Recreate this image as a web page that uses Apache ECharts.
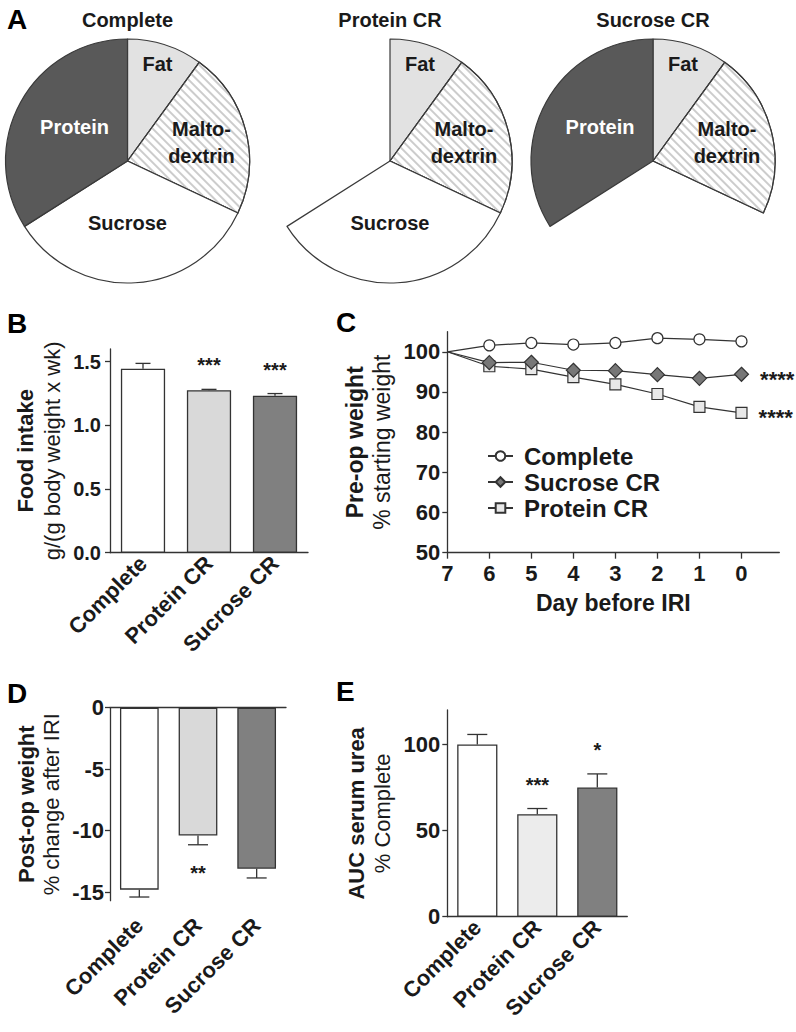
<!DOCTYPE html>
<html><head><meta charset="utf-8">
<script src="https://cdn.jsdelivr.net/npm/echarts@6/dist/echarts.min.js"></script>
<style>html,body{margin:0;padding:0;background:#fff}#c{width:796px;height:1032px}</style>
</head><body><div id="c"></div>
<script>
// ---------- DATA ----------
// Panel A: diet composition (share of energy, %)
const nutrients = ['Fat', 'Maltodextrin', 'Sucrose', 'Protein'];
const nutrientLabels = ['Fat', 'Malto-\ndextrin', 'Sucrose', 'Protein'];
const dietShares = [10, 22, 34, 34];
const pieTitles = ['Complete', 'Protein CR', 'Sucrose CR'];
const removedNutrient = [null, 'Protein', 'Sucrose'];
// Panel B: food intake
const groups = ['Complete', 'Protein CR', 'Sucrose CR'];
const foodIntake = [1.445, 1.276, 1.233];
const foodIntakeSem = [0.042, 0.007, 0.017];
const foodIntakeSig = ['', '***', '***'];
const foodTicks = [0, 0.5, 1.0, 1.5];
// Panel C: pre-op weight
const days = [7, 6, 5, 4, 3, 2, 1, 0];
const weightComplete = [100, 101.6, 102.2, 101.8, 102.2, 103.4, 103.1, 102.6];
const weightSucroseCR = [100, 97.3, 97.4, 95.4, 95.3, 94.3, 93.4, 94.4];
const weightProteinCR = [100, 96.4, 95.7, 93.7, 91.9, 89.5, 86.3, 84.8];
const weightSigComplete = '';
const weightSigSucrose = '****';
const weightSigProtein = '****';
const dayTicks = [7, 6, 5, 4, 3, 2, 1, 0];
const weightTicks = [50, 60, 70, 80, 90, 100];
// Panel D: post-op weight change
const postOpChange = [-14.8, -10.4, -13.1];
const postOpSem = [0.6, 0.75, 0.75];
const postOpSig = ['', '**', ''];
const postOpTicks = [0, -5, -10, -15];
// Panel E: AUC serum urea
const ureaAUC = [100, 59.5, 75];
const ureaSem = [5.8, 3.3, 7.9];
const ureaSig = ['', '***', '*'];
const ureaTicks = [0, 50, 100];

// ---------- STYLE / LAYOUT ----------
const FONT = '"Liberation Sans", Arial, Helvetica, sans-serif';
const INK = '#1a1a1a';
const LINE = '#333';
const pieCenters = [[127.5, 161], [390, 161], [653, 161]];
const pieRadius = 122;
const pieLabelOffset = { Fat: [30, -97], Maltodextrin: [74, -19], Sucrose: [0, 62], Protein: [-53, -34] };
const sliceStyle = {
  Fat: { color: '#e2e2e2' },
  Maltodextrin: { color: '#ffffff', decal: { symbol: 'rect', symbolSize: 1, dashArrayX: [1, 0], dashArrayY: [2, 4], rotation: Math.PI / 4, color: '#cccccc' } },
  Sucrose: { color: '#ffffff' },
  Protein: { color: '#595959' }
};
const barColorsB = ['#ffffff', '#d9d9d9', '#808080'];
const barColorsD = ['#ffffff', '#d9d9d9', '#808080'];
const barColorsE = ['#ffffff', '#ececec', '#808080'];

const chart = echarts.init(document.getElementById('c'), null, { renderer: 'svg', width: 796, height: 1032 });

function axisBase(extra) {
  return Object.assign({
    axisLine: { show: true, onZero: false, lineStyle: { color: LINE, width: 1.3 } },
    axisTick: { show: true, length: 5, lineStyle: { color: LINE, width: 1.3 } },
    splitLine: { show: false }
  }, extra);
}
function yName(bold, normal, size, lh) {
  return {
    name: '{b|' + bold + '}\n{n|' + normal + '}',
    nameLocation: 'middle', nameRotate: 90,
    nameTextStyle: { rich: {
      b: { fontFamily: FONT, fontSize: size, fontWeight: 'bold', color: INK, lineHeight: lh },
      n: { fontFamily: FONT, fontSize: size, fontWeight: 'normal', color: INK, lineHeight: lh }
    } }
  };
}
function errorBars(sig, cap, sigGap, sigSize) {
  return function (params, api) {
    const i = api.value(0), m = api.value(1), e = api.value(2);
    const dir = m < 0 ? -1 : 1;
    const a = api.coord([i, m]);
    const b = api.coord([i, m + dir * e]);
    const children = [
      { type: 'line', shape: { x1: a[0], y1: a[1], x2: b[0], y2: b[1] }, style: { stroke: LINE, lineWidth: 1.3 } },
      { type: 'line', shape: { x1: b[0] - cap / 2, y1: b[1], x2: b[0] + cap / 2, y2: b[1] }, style: { stroke: LINE, lineWidth: 1.3 } }
    ];
    const s = sig[params.dataIndex];
    if (s) {
      children.push({ type: 'text', x: b[0], y: b[1] - dir * sigGap, style: {
        text: s, fill: INK, font: 'bold ' + sigSize + 'px ' + FONT,
        align: 'center', verticalAlign: 'middle', textAlign: 'center', textVerticalAlign: 'middle' } });
    }
    return { type: 'group', children: children };
  };
}
function lineData(vals, sig) {
  const last = vals.length - 1;
  return vals.map((v, i) => {
    if (i === 0) return { value: [days[i], v], symbol: 'none' };
    if (i === last && sig) return { value: [days[i], v], label: { show: true, position: 'right', distance: 11, offset: [0, 5],
      formatter: sig, fontFamily: FONT, fontSize: 22, fontWeight: 'bold', color: INK } };
    return [days[i], v];
  });
}

const pieSeries = pieTitles.map((t, k) => ({
  type: 'pie', center: pieCenters[k], radius: pieRadius, startAngle: 90, clockwise: true,
  silent: true, avoidLabelOverlap: false, minShowLabelAngle: 0,
  itemStyle: { borderColor: '#3a3a3a', borderWidth: 1.2 },
  emphasis: { disabled: true },
  label: { show: true, position: 'inside', fontFamily: FONT, fontSize: 20, fontWeight: 'bold', lineHeight: 27, color: INK,
    formatter: p => nutrientLabels[p.dataIndex] },
  labelLine: { show: false },
  labelLayout: p => {
    const o = pieLabelOffset[nutrients[p.dataIndex]];
    return { x: pieCenters[k][0] + o[0], y: pieCenters[k][1] + o[1], align: 'center', verticalAlign: 'middle' };
  },
  data: nutrients.map((n, i) => {
    const removed = removedNutrient[k] === n;
    return {
      name: n, value: dietShares[i],
      itemStyle: removed ? { color: 'rgba(255,255,255,0)', borderWidth: 0 } : sliceStyle[n],
      label: removed ? { show: false } : { color: n === 'Protein' ? '#ffffff' : INK }
    };
  })
}));

const catLabel = (size, margin) => ({ interval: 0, rotate: 45, margin: margin, fontFamily: FONT, fontSize: size, fontWeight: 'bold', color: INK });
const numLabel = (size, margin, vals, fmt) => ({ customValues: vals, margin: margin, fontFamily: FONT, fontSize: size, fontWeight: 'bold', color: INK, formatter: fmt });
const lineLabelOff = { show: false };

const option = {
  animation: false,
  backgroundColor: '#fff',
  title: [
    { text: 'A', left: 7, top: 5 }, { text: 'B', left: 7, top: 309 }, { text: 'C', left: 336, top: 308 },
    { text: 'D', left: 7, top: 679 }, { text: 'E', left: 336, top: 677 }
  ].map(t => Object.assign(t, { padding: 0, textStyle: { fontFamily: FONT, fontSize: 28, fontWeight: 'bold', color: '#000' } })),
  graphic: pieTitles.map((t, k) => ({
    type: 'text', x: pieCenters[k][0], y: 20,
    style: { text: t, fill: INK, font: 'bold 20px ' + FONT, align: 'center', verticalAlign: 'middle', textAlign: 'center', textVerticalAlign: 'middle' }
  })),
  legend: {
    data: ['Complete', 'Sucrose CR', 'Protein CR'], orient: 'vertical', left: 487, top: 444, padding: 0,
    itemWidth: 25, itemHeight: 12, itemGap: 2, selectedMode: false,
    textStyle: { fontFamily: FONT, fontSize: 24, fontWeight: 'bold', color: INK, padding: [0, 0, 0, 6] }
  },
  grid: [
    { left: 110, top: 349, width: 198, height: 203.7 },
    { left: 447.3, top: 331.7, width: 332, height: 221 },
    { left: 110, top: 707.7, width: 176, height: 193 },
    { left: 447.3, top: 710, width: 180, height: 206.7 }
  ],
  xAxis: [
    axisBase({ type: 'category', gridIndex: 0, data: groups, axisTick: { show: false }, axisLabel: catLabel(22, 7) }),
    axisBase({ type: 'value', gridIndex: 1, inverse: true, min: -0.9, max: 7,
      axisTick: { show: true, length: 6, customValues: dayTicks, lineStyle: { color: LINE, width: 1.3 } },
      axisLabel: numLabel(22, 10, dayTicks),
      name: 'Day before IRI', nameLocation: 'middle', nameGap: 39,
      nameTextStyle: { fontFamily: FONT, fontSize: 23, fontWeight: 'bold', color: INK } }),
    axisBase({ type: 'category', gridIndex: 2, position: 'top', data: groups, axisTick: { show: false }, axisLabel: { show: false } }),
    axisBase({ type: 'category', gridIndex: 2, position: 'bottom', data: groups, axisLine: { show: false }, axisTick: { show: false }, axisLabel: catLabel(22, 21) }),
    axisBase({ type: 'category', gridIndex: 3, data: groups, axisTick: { show: false }, axisLabel: catLabel(22, 7) })
  ],
  yAxis: [
    axisBase(Object.assign({ type: 'value', gridIndex: 0, min: 0, max: 1.6,
      axisTick: { show: true, length: 5, customValues: foodTicks, lineStyle: { color: LINE, width: 1.3 } },
      axisLabel: numLabel(20, 9, foodTicks, v => Number(v).toFixed(1)), nameGap: 44.5 },
      yName('Food intake', 'g/(g body weight x wk)', 22, 27))),
    axisBase(Object.assign({ type: 'value', gridIndex: 1, min: 50, max: 105,
      axisTick: { show: true, length: 5, customValues: weightTicks, lineStyle: { color: LINE, width: 1.3 } },
      axisLabel: numLabel(22, 7, weightTicks), nameGap: 51.8 },
      yName('Pre-op weight', '% starting weight', 23, 27))),
    axisBase(Object.assign({ type: 'value', gridIndex: 2, min: -15.7, max: 0,
      axisTick: { show: true, length: 5, customValues: postOpTicks, lineStyle: { color: LINE, width: 1.3 } },
      axisLabel: numLabel(22, 6, postOpTicks), nameGap: 46.5 },
      yName('Post-op weight', '% change after IRI', 22, 25))),
    axisBase(Object.assign({ type: 'value', gridIndex: 3, min: 0, max: 120,
      axisTick: { show: true, length: 5, customValues: ureaTicks, lineStyle: { color: LINE, width: 1.3 } },
      axisLabel: numLabel(22, 7, ureaTicks), nameGap: 51.8 },
      yName('AUC serum urea', '% Complete', 22, 26)))
  ],
  series: pieSeries.concat([
    { type: 'bar', xAxisIndex: 0, yAxisIndex: 0, barWidth: '67%', silent: true,
      itemStyle: { borderColor: LINE, borderWidth: 1.3 },
      data: foodIntake.map((v, i) => ({ value: v, itemStyle: { color: barColorsB[i] } })) },
    { type: 'custom', xAxisIndex: 0, yAxisIndex: 0, silent: true, renderItem: errorBars(foodIntakeSig, 15, 24, 20),
      data: groups.map((g, i) => [i, foodIntake[i], foodIntakeSem[i]]), z: 5 },
    { name: 'Protein CR', type: 'line', xAxisIndex: 1, yAxisIndex: 1, data: lineData(weightProteinCR, weightSigProtein),
      symbol: 'rect', symbolSize: 11, itemStyle: { color: '#e8e8e8', borderColor: LINE, borderWidth: 1.2 },
      lineStyle: { color: LINE, width: 1.2 }, z: 2, label: lineLabelOff },
    { name: 'Sucrose CR', type: 'line', xAxisIndex: 1, yAxisIndex: 1, data: lineData(weightSucroseCR, weightSigSucrose),
      symbol: 'diamond', symbolSize: 14, itemStyle: { color: '#777777', borderColor: LINE, borderWidth: 1.2 },
      lineStyle: { color: LINE, width: 1.2 }, z: 3, label: lineLabelOff },
    { name: 'Complete', type: 'line', xAxisIndex: 1, yAxisIndex: 1, data: lineData(weightComplete, weightSigComplete),
      symbol: 'circle', symbolSize: 11, itemStyle: { color: '#ffffff', borderColor: LINE, borderWidth: 1.2 },
      lineStyle: { color: LINE, width: 1.2 }, z: 4, label: lineLabelOff },
    { type: 'bar', xAxisIndex: 2, yAxisIndex: 2, barWidth: '66%', silent: true,
      itemStyle: { borderColor: LINE, borderWidth: 1.3 },
      data: postOpChange.map((v, i) => ({ value: v, itemStyle: { color: barColorsD[i] } })) },
    { type: 'custom', xAxisIndex: 2, yAxisIndex: 2, silent: true, renderItem: errorBars(postOpSig, 20, 28, 20),
      data: groups.map((g, i) => [i, postOpChange[i], postOpSem[i]]), z: 5 },
    { type: 'bar', xAxisIndex: 4, yAxisIndex: 3, barWidth: '67%', silent: true,
      itemStyle: { borderColor: LINE, borderWidth: 1.3 },
      data: ureaAUC.map((v, i) => ({ value: v, itemStyle: { color: barColorsE[i] } })) },
    { type: 'custom', xAxisIndex: 4, yAxisIndex: 3, silent: true, renderItem: errorBars(ureaSig, 20, 24, 20),
      data: groups.map((g, i) => [i, ureaAUC[i], ureaSem[i]]), z: 5 }
  ])
};
chart.setOption(option);
</script>
</body></html>
